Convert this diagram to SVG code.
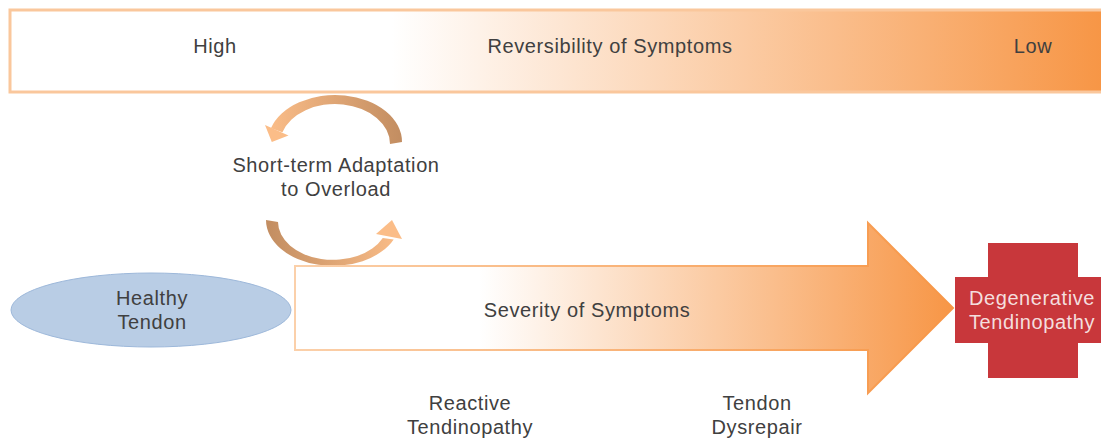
<svg xmlns="http://www.w3.org/2000/svg" width="1101" height="439" viewBox="0 0 1101 439">
<defs>
<linearGradient id="barGrad" gradientUnits="userSpaceOnUse" x1="10" y1="0" x2="1101" y2="0">
<stop offset="0.35" stop-color="#ffffff"/>
<stop offset="1" stop-color="#f79646"/>
</linearGradient>
<linearGradient id="arrowGrad" gradientUnits="userSpaceOnUse" x1="295" y1="0" x2="953" y2="0">
<stop offset="0.28" stop-color="#ffffff"/>
<stop offset="1" stop-color="#f79646"/>
</linearGradient>
<linearGradient id="arrowStroke" gradientUnits="userSpaceOnUse" x1="295" y1="0" x2="953" y2="0">
<stop offset="0" stop-color="#fbd0aa"/>
<stop offset="1" stop-color="#f79646"/>
</linearGradient>
<linearGradient id="topArc" gradientUnits="userSpaceOnUse" x1="268" y1="0" x2="402" y2="0">
<stop offset="0" stop-color="#fbbd88"/>
<stop offset="1" stop-color="#c28d61"/>
</linearGradient>
<linearGradient id="botArc" gradientUnits="userSpaceOnUse" x1="266" y1="0" x2="400" y2="0">
<stop offset="0" stop-color="#c28d61"/>
<stop offset="1" stop-color="#fbbd88"/>
</linearGradient>
</defs>
<style>
text { font-family: "Liberation Sans", Arial, sans-serif; font-size: 20px; letter-spacing: 0.6px; fill: #404040; text-anchor: middle; }
.light { fill: #f4dede; }
</style>
<rect width="1101" height="439" fill="#ffffff"/>

<g id="reversibility-bar">
<rect x="10" y="10" width="1100" height="82" fill="url(#barGrad)" stroke="#fac79c" stroke-width="3"/>
<text x="215" y="53">High</text>
<text x="610" y="53">Reversibility of Symptoms</text>
<text x="1033" y="53">Low</text>
</g>

<g id="adaptation-cycle">
<path d="M270.9 128.3 A67 47 0 0 1 402 142 L390 144 A55 40 0 0 0 282.4 132.3 Z" fill="url(#topArc)"/>
<polygon points="265,125 288.5,135.5 271.8,142" fill="#fbbd88"/>
<path d="M266 220 A67 46 0 0 0 393.7 239.4 L382.8 238 A55 38 0 0 1 278 222 Z" fill="url(#botArc)"/>
<polygon points="376,234 402,239 392,220" fill="#fbbd88"/>
<text x="336" y="172">Short-term Adaptation</text>
<text x="336" y="196">to Overload</text>
</g>

<g id="healthy-tendon">
<ellipse cx="151" cy="310" rx="140" ry="37" fill="#b9cde5" stroke="#9db8da" stroke-width="1"/>
<text x="152" y="305">Healthy</text>
<text x="152" y="329">Tendon</text>
</g>

<g id="connectors">
<path id="severity-arrow" d="M295 266 L868 266 L868 223 L953 308 L868 393 L868 350 L295 350 Z" fill="url(#arrowGrad)" stroke="url(#arrowStroke)" stroke-width="2"/>
<text x="587" y="317">Severity of Symptoms</text>
</g>

<g id="degenerative-tendinopathy">
<path d="M988 243 H1078 V277 H1101 V343 H1078 V378 H988 V343 H955 V277 H988 Z" fill="#c8373b"/>
<text class="light" x="1032" y="305">Degenerative</text>
<text class="light" x="1032" y="329">Tendinopathy</text>
</g>

<g id="reactive-tendinopathy">
<text x="470" y="410">Reactive</text>
<text x="470" y="434">Tendinopathy</text>
</g>

<g id="tendon-dysrepair">
<text x="757" y="410">Tendon</text>
<text x="757" y="434">Dysrepair</text>
</g>
</svg>
